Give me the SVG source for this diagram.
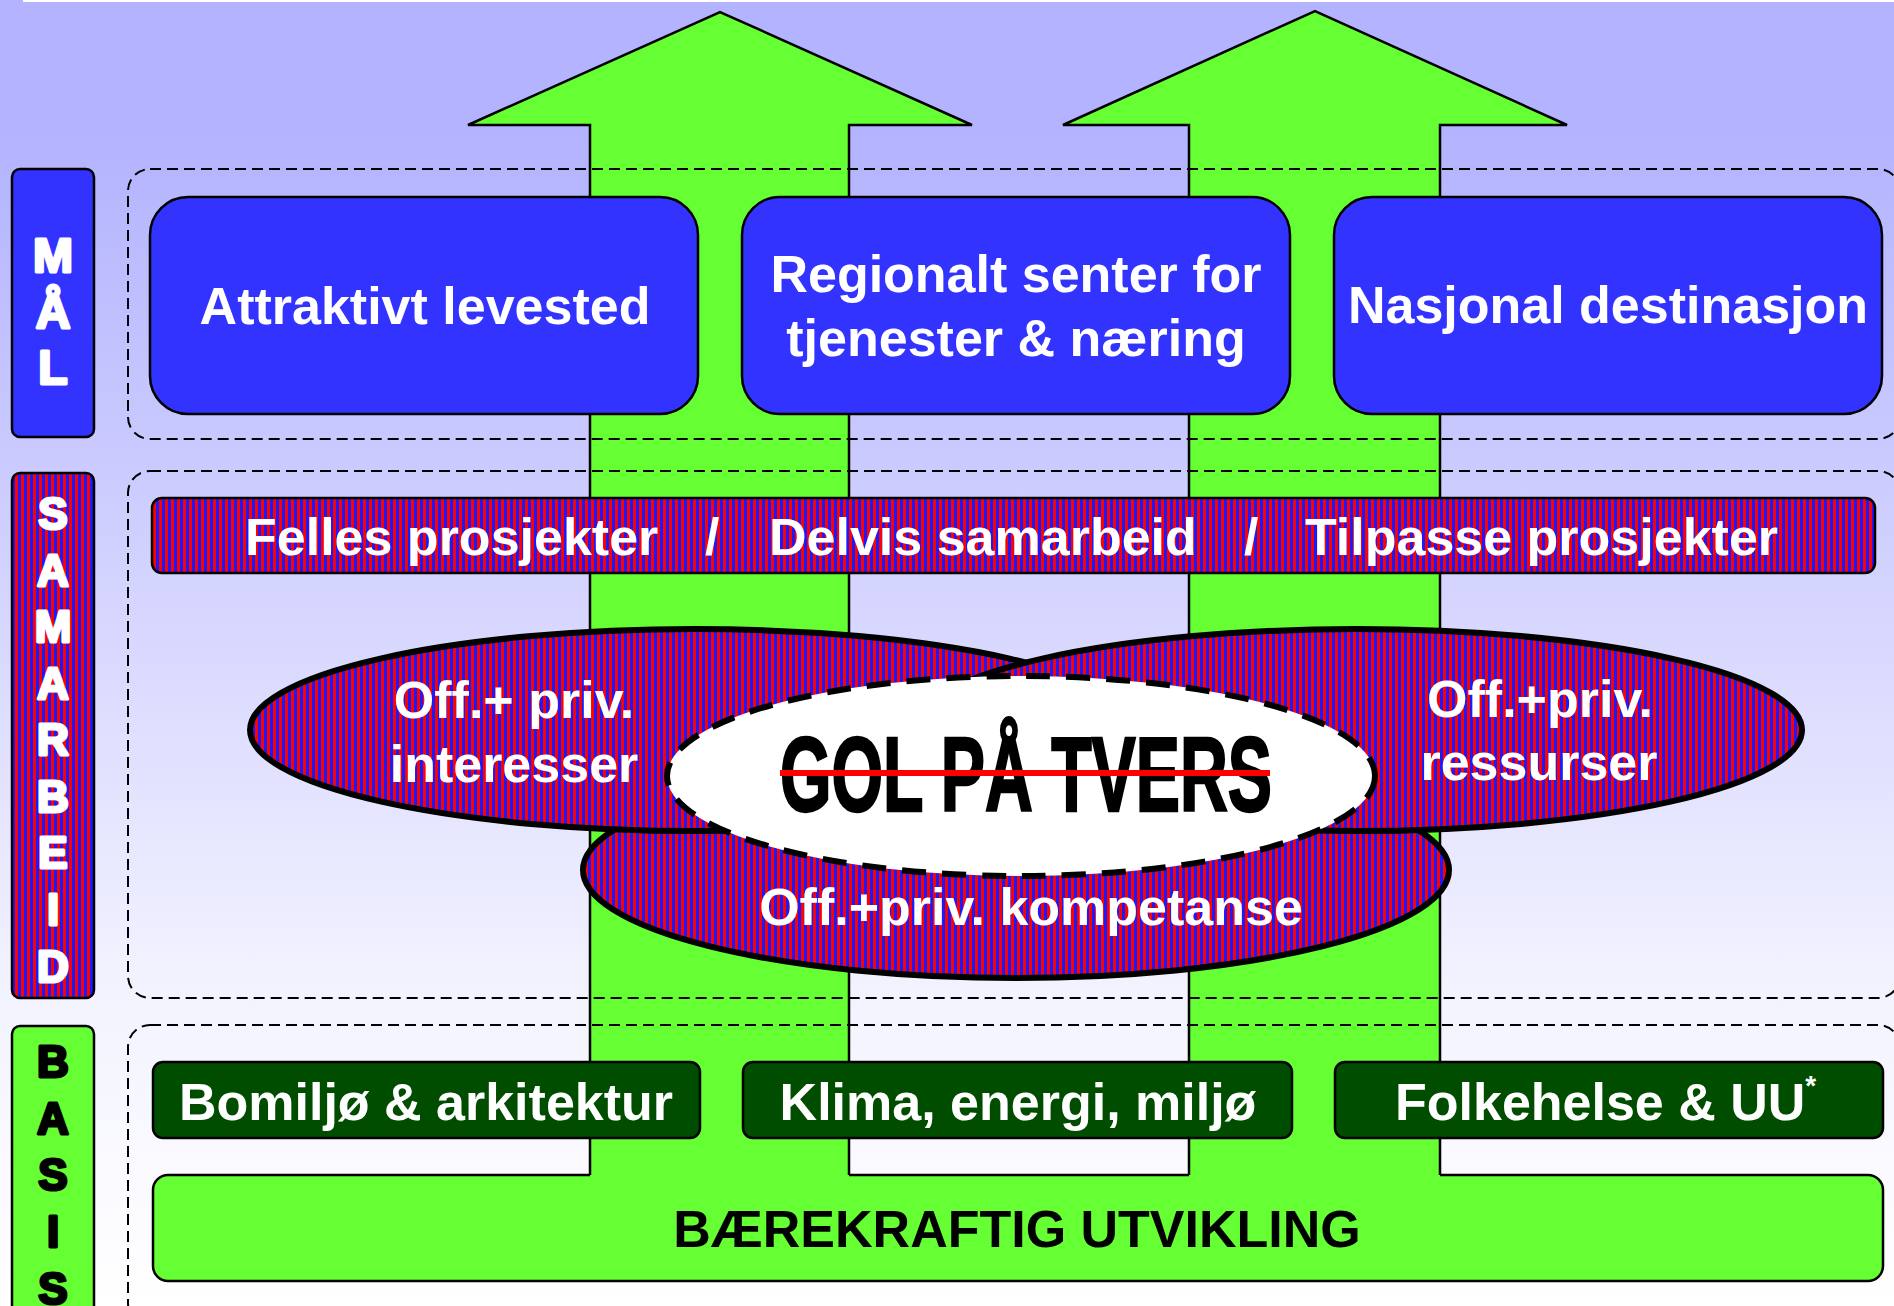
<svg xmlns="http://www.w3.org/2000/svg" width="1894" height="1306" viewBox="0 0 1894 1306">
<style>
.t{font-family:"Liberation Sans",Arial,sans-serif;font-weight:bold;font-size:52px}
.w{fill:#ffffff}
.k{fill:#000000}
.c{text-anchor:middle}
.dash{fill:none;stroke:#000;stroke-width:2;stroke-dasharray:11 6}
.blue{fill:#3333ff;stroke:#000;stroke-width:2.5}
.dkg{fill:#004d00;stroke:#000;stroke-width:2.5}
.lg{fill:#66ff33;stroke:#000;stroke-width:2.5}
.str{fill:url(#stripes);stroke:#000;stroke-width:2.5}
.ell{fill:url(#stripes);stroke:#000;stroke-width:6}
.let{font-family:"Liberation Sans",Arial,sans-serif;font-weight:bold;text-anchor:middle}
</style>
<defs>
<linearGradient id="bg" x1="0" y1="0" x2="0" y2="1306" gradientUnits="userSpaceOnUse">
<stop offset="0" stop-color="#b3b3ff"/>
<stop offset="0.1" stop-color="#b3b3ff"/>
<stop offset="0.33" stop-color="#c8c8ff"/>
<stop offset="0.76" stop-color="#f3f3ff"/>
<stop offset="1" stop-color="#ffffff"/>
</linearGradient>
<pattern id="stripes" width="6" height="10" patternUnits="userSpaceOnUse">
<rect width="6" height="10" fill="#ff0000"/>
<rect width="3" height="10" fill="#1a1aff"/>
</pattern>
</defs>

<rect width="1894" height="1306" fill="url(#bg)"/>
<rect x="23" y="0" width="1871" height="2" fill="#ffffff"/>

<g id="base">
<rect class="lg" x="153" y="1175" width="1730" height="106" rx="15"/>
<text class="t k c" x="1017" y="1247">BÆREKRAFTIG UTVIKLING</text>
</g>

<g id="connectors">
<polygon points="590,1178 590,125 468,125 720,12 972,125 849,125 849,1178" fill="#66ff33"/>
<polyline points="590,1175 590,125 468,125 720,12 972,125 849,125 849,1175" fill="none" stroke="#000" stroke-width="2.5" stroke-linejoin="miter"/>
<polygon points="1189,1178 1189,125 1063,125 1315,11 1567,125 1440,125 1440,1178" fill="#66ff33"/>
<polyline points="1189,1175 1189,125 1063,125 1315,11 1567,125 1440,125 1440,1175" fill="none" stroke="#000" stroke-width="2.5" stroke-linejoin="miter"/>
</g>

<g id="regions">
<rect class="dash" x="128" y="169" width="1772" height="270" rx="22"/>
<rect class="dash" x="128" y="471" width="1772" height="527" rx="22"/>
<rect class="dash" x="128" y="1025" width="1772" height="300" rx="22"/>
</g>

<g id="label-mal">
<rect class="blue" x="12" y="169" width="82" height="268" rx="8"/>
<g class="let w" font-size="48" stroke="#fff" stroke-width="3" stroke-linejoin="round">
<text x="53" y="272">M</text>
<text x="53" y="328">Å</text>
<text x="53" y="384">L</text>
</g>
</g>

<g id="label-samarbeid">
<rect class="str" x="12" y="473" width="82" height="525" rx="8"/>
<g class="let w" font-size="44" stroke="#fff" stroke-width="3" stroke-linejoin="round">
<text x="53" y="529">S</text>
<text x="53" y="586">A</text>
<text x="53" y="642">M</text>
<text x="53" y="699">A</text>
<text x="53" y="755">R</text>
<text x="53" y="812">B</text>
<text x="53" y="868">E</text>
<text x="53" y="925">I</text>
<text x="53" y="982">D</text>
</g>
</g>

<g id="label-basis">
<rect class="lg" x="12" y="1026" width="82" height="300" rx="8"/>
<g class="let k" font-size="44" stroke="#000" stroke-width="3" stroke-linejoin="round">
<text x="53" y="1077">B</text>
<text x="53" y="1134">A</text>
<text x="53" y="1190">S</text>
<text x="53" y="1247">I</text>
<text x="53" y="1304">S</text>
</g>
</g>

<g id="mal-attraktivt">
<rect class="blue" x="150" y="197" width="548" height="217" rx="38"/>
<text class="t w c" x="425" y="324">Attraktivt levested</text>
</g>
<g id="mal-regionalt">
<rect class="blue" x="742" y="197" width="548" height="217" rx="38"/>
<text class="t w c" x="1016" y="292">Regionalt senter for</text>
<text class="t w c" x="1016" y="356">tjenester &amp; næring</text>
</g>
<g id="mal-nasjonal">
<rect class="blue" x="1334" y="197" width="548" height="217" rx="38"/>
<text class="t w c" x="1608" y="323">Nasjonal destinasjon</text>
</g>

<g id="samarbeid-bar">
<rect class="str" x="152" y="498" width="1723" height="75" rx="10"/>
<text class="t w" x="245" y="555">Felles prosjekter</text>
<text class="t w" x="705" y="555">/</text>
<text class="t w" x="769" y="555">Delvis samarbeid</text>
<text class="t w" x="1244" y="555">/</text>
<text class="t w" x="1305" y="555">Tilpasse prosjekter</text>
</g>

<g id="kompetanse">
<ellipse class="ell" cx="1016" cy="870" rx="433" ry="108"/>
<text class="t w c" x="1031" y="925">Off.+priv. kompetanse</text>
</g>
<g id="interesser">
<ellipse class="ell" cx="695" cy="730" rx="445" ry="101"/>
<text class="t w c" x="514" y="718">Off.+ priv.</text>
<text class="t w c" x="514" y="782">interesser</text>
</g>
<g id="ressurser">
<ellipse class="ell" cx="1357" cy="730" rx="445" ry="101"/>
<text class="t w c" x="1540" y="717">Off.+priv.</text>
<text class="t w c" x="1539" y="780">ressurser</text>
</g>

<g id="gol-pa-tvers">
<ellipse cx="1021" cy="776" rx="354" ry="100" fill="#ffffff" stroke="#000" stroke-width="6" stroke-dasharray="24 16"/>
<text x="780" y="811" font-family="'Liberation Sans',Arial,sans-serif" font-weight="bold" font-size="105" textLength="492" lengthAdjust="spacingAndGlyphs" fill="#000" stroke="#000" stroke-width="2.5">GOL PÅ TVERS</text>
<line x1="780" y1="773" x2="1270" y2="773" stroke="#ff0000" stroke-width="6"/>
</g>

<g id="basis-bomiljo">
<rect class="dkg" x="153" y="1062" width="547" height="76" rx="10"/>
<text class="t w c" x="426" y="1120">Bomiljø &amp; arkitektur</text>
</g>
<g id="basis-klima">
<rect class="dkg" x="743" y="1062" width="549" height="76" rx="10"/>
<text class="t w c" x="1018" y="1120">Klima, energi, miljø</text>
</g>
<g id="basis-folkehelse">
<rect class="dkg" x="1335" y="1062" width="548" height="76" rx="10"/>
<text class="t w" x="1395" y="1120">Folkehelse &amp; UU<tspan font-size="28" dy="-25">*</tspan></text>
</g>
</svg>
